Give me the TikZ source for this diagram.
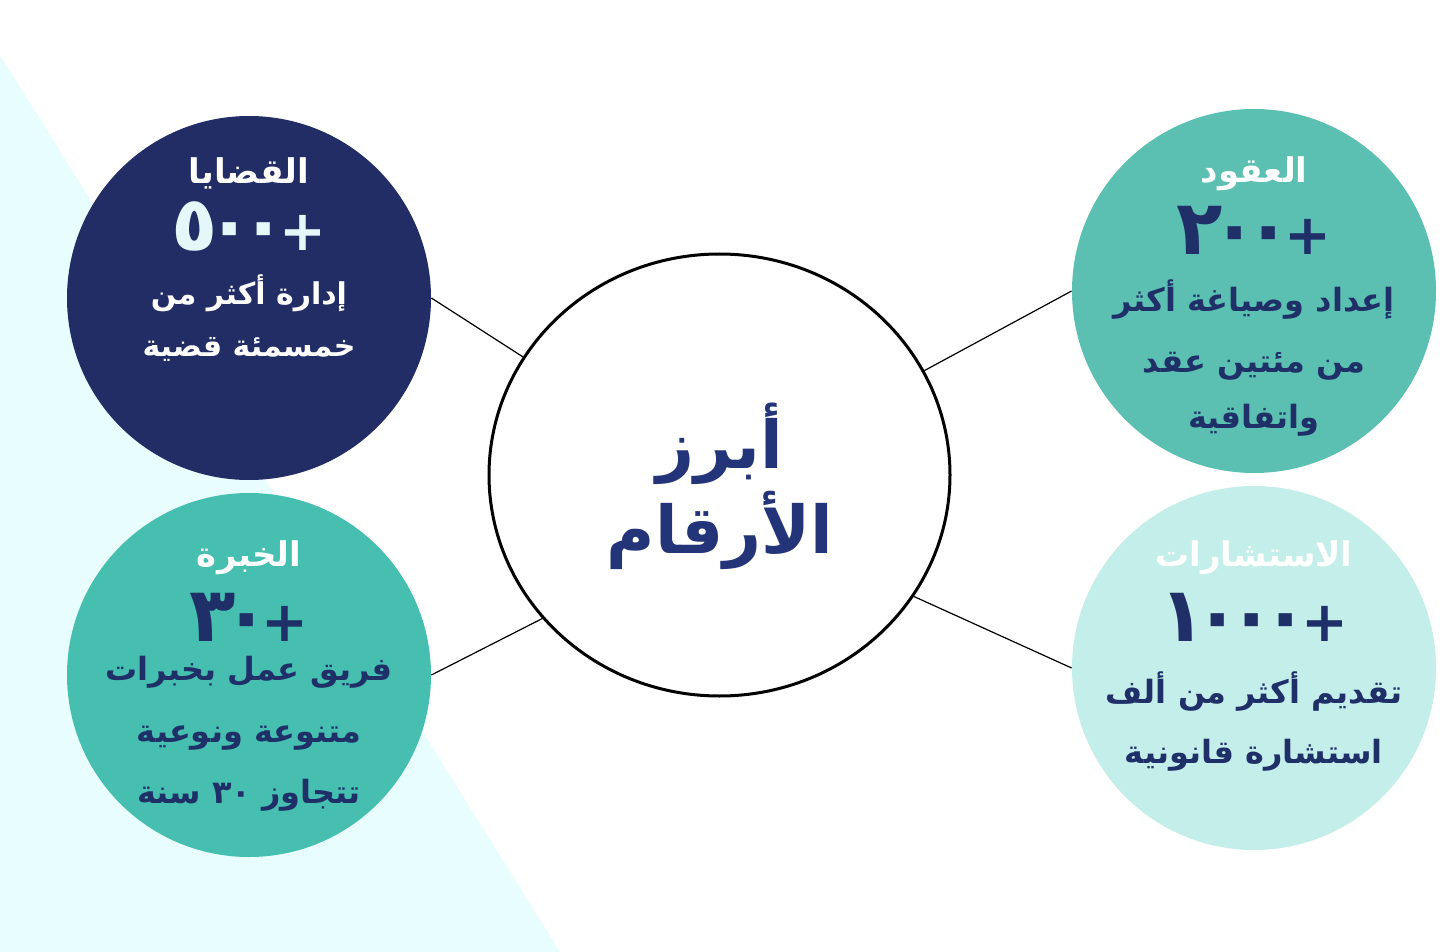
\documentclass[tikz,border=0pt]{standalone}
\usepackage{fontspec}
\usetikzlibrary{shapes.geometric}
\TeXXeTstate=1
\newfontfamily\arabicfont[Script=Arabic]{DejaVu Sans}
\definecolor{navy}{HTML}{222D66}
\definecolor{tealA}{HTML}{5BC0B1}
\definecolor{tealB}{HTML}{46BFB0}
\definecolor{lightT}{HTML}{C4EEE9}
\definecolor{bgtri}{HTML}{E8FDFD}
\definecolor{ink}{HTML}{1F2F68}
\definecolor{hubink}{HTML}{243478}
\definecolor{numwhite}{HTML}{E6F7F9}
\newcommand{\dk}{\kern-6pt}
\newcommand{\numtxt}[1]{\mbox{\fontsize{38}{40}\selectfont #1}\kern-4pt\mbox{\fontsize{28}{30}\selectfont +}}
\begin{document}
\begin{tikzpicture}[x=0.5pt,y=-0.5pt,
  bubble/.style={circle,minimum size=182pt,inner sep=0pt,draw=none},
  link/.style={draw=black,line width=0.6pt},
  txt/.style={anchor=base,inner sep=0pt,font=\arabicfont\bfseries},
  ttl/.style={txt,font=\arabicfont\bfseries\fontsize{17}{20}\selectfont},
  num/.style={txt,font=\arabicfont\bfseries\fontsize{30}{34}\selectfont},
  desc/.style={txt,font=\arabicfont\bfseries\fontsize{16}{19}\selectfont},
  hubtxt/.style={txt,font=\arabicfont\bfseries\fontsize{33}{38}\selectfont,text=hubink}]
\useasboundingbox (0,0) rectangle (1440,952);
\fill[white] (0,0) rectangle (1440,952);
\fill[bgtri] (0,55) -- (0,952) -- (560,952) -- cycle;

\node[bubble,fill=navy] (cases) at (249,298) {};
\node[bubble,fill=tealA] (contracts) at (1254,291) {};
\node[bubble,fill=tealB] (exp) at (249,675) {};
\node[bubble,fill=lightT] (consult) at (1254,668) {};
\node[ellipse,minimum width=230.5pt,minimum height=221pt,inner sep=0pt,draw=black,line width=1.5pt,fill=white] (hub) at (719.5,475) {};

\draw[link] (cases.east) -- (hub.149.4);
\draw[link] (contracts.west) -- (hub.27.6);
\draw[link] (exp.east) -- (hub.219);
\draw[link] (consult.west) -- (hub.-32);

% hub text
\node[hubtxt] (hubA) at (720,468) {\beginR أبرز\endR};
\node[hubtxt] (hubB) at (720,553) {\beginR الأرقام\endR};

% cases
\node[ttl,text=white] (casesT) at (249,184) {\beginR القضايا\endR};
\node[num,text=numwhite] (casesN) at (249,251) {\numtxt{٥\dk٠\dk٠}};
\node[desc,text=white,font=\arabicfont\bfseries\fontsize{15}{18}\selectfont] (casesD1) at (249,305) {\beginR إدارة أكثر من\endR};
\node[desc,text=white,font=\arabicfont\bfseries\fontsize{15}{18}\selectfont] (casesD2) at (249,356) {\beginR خمسمئة قضية\endR};

% contracts
\node[ttl,text=white] (conT) at (1254,183) {\beginR العقود\endR};
\node[num,text=ink] (conN) at (1254,255) {\numtxt{٢\dk٠\dk٠}};
\node[desc,text=ink] (conD1) at (1254,312) {\beginR إعداد وصياغة أكثر\endR};
\node[desc,text=ink] (conD2) at (1254,372) {\beginR من مئتين عقد\endR};
\node[desc,text=ink] (conD3) at (1254,428) {\beginR واتفاقية\endR};

% experience
\node[ttl,text=white] (expT) at (249,566) {\beginR الخبرة\endR};
\node[num,text=ink] (expN) at (249,641) {\numtxt{٣\dk٠}};
\node[desc,text=ink] (expD1) at (249,680) {\beginR فريق عمل بخبرات\endR};
\node[desc,text=ink] (expD2) at (249,742) {\beginR متنوعة ونوعية\endR};
\node[desc,text=ink] (expD3) at (249,803) {\beginR تتجاوز \beginL٣٠\endL{} سنة\endR};

% consultations
\node[ttl,text=white] (csT) at (1254,566) {\beginR الاستشارات\endR};
\node[num,text=ink] (csN) at (1254,641) {\numtxt{١\dk٠\dk٠\dk٠}};
\node[desc,text=ink] (csD1) at (1254,703) {\beginR تقديم أكثر من ألف\endR};
\node[desc,text=ink] (csD2) at (1254,763) {\beginR استشارة قانونية\endR};
\end{tikzpicture}
\end{document}
